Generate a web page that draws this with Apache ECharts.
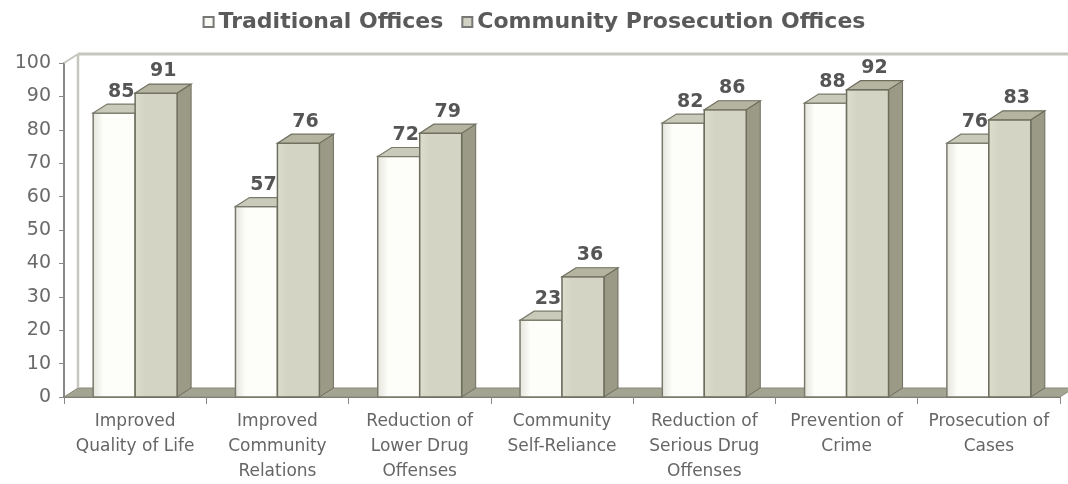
<!DOCTYPE html>
<html>
<head>
<meta charset="utf-8">
<script src="https://cdn.jsdelivr.net/npm/echarts@6/dist/echarts.min.js"></script>
<style>
  html, body { margin: 0; padding: 0; background: #ffffff; }
  #chart { width: 1068px; height: 484px; }
</style>
</head>
<body>
<div id="chart"></div>
<script>
// Survey results: share of offices reporting each outcome
const categories = [
  'Improved\nQuality of Life',
  'Improved\nCommunity\nRelations',
  'Reduction of\nLower Drug\nOffenses',
  'Community\nSelf-Reliance',
  'Reduction of\nSerious Drug\nOffenses',
  'Prevention of\nCrime',
  'Prosecution of\nCases'
];
const traditional = [85, 57, 72, 23, 82, 88, 76];
const community = [91, 76, 79, 36, 86, 92, 83];
const seriesNames = ['Traditional Offices', 'Community Prosecution Offices'];

// 3D extrusion offsets (pixels)
const DX = 14, DY = 9;

const palette = [
  { frontA: '#e4e4dc', frontB: '#fdfdf9', top: '#cacaba', side: '#b2b2a2', edge: '#7a7a6c' },
  { frontA: '#dedecf', frontB: '#d4d4c4', top: '#b4b4a0', side: '#9a9a86', edge: '#6e6e5e' }
];

function makeBarRenderer(idx) {
  const c = palette[idx];
  return function (params, api) {
    const cat = api.value(0), val = api.value(1);
    const base = api.coord([cat, 0]);
    const top = api.coord([cat, val]);
    const band = api.size([1, 0])[0];
    const w = band * 0.295;
    const x0 = idx === 0 ? base[0] - w : base[0];
    const x1 = x0 + w;
    const yt = top[1], yb = base[1];
    return {
      type: 'group',
      children: [
        {
          type: 'polygon',
          shape: { points: [[x1, yt], [x1 + DX, yt - DY], [x1 + DX, yb - DY], [x1, yb]] },
          style: { fill: c.side, stroke: c.edge, lineWidth: 1 }
        },
        {
          type: 'rect',
          shape: { x: x0, y: yt, width: w, height: yb - yt },
          style: {
            fill: new echarts.graphic.LinearGradient(0, 0, 1, 0, [
              { offset: 0, color: c.frontA },
              { offset: 0.25, color: c.frontB },
              { offset: 1, color: c.frontB }
            ]),
            stroke: c.edge, lineWidth: 1.5
          }
        },
        {
          type: 'polygon',
          shape: { points: [[x0, yt], [x0 + DX, yt - DY], [x1 + DX, yt - DY], [x1, yt]] },
          style: { fill: c.top, stroke: c.edge, lineWidth: 1.2 }
        },
        {
          type: 'text',
          z2: 10,
          style: {
            x: (x0 + x1) / 2 + DX / 2,
            y: yt - DY - 3,
            text: String(val),
            align: 'center',
            verticalAlign: 'bottom',
            fill: '#555555',
            font: 'bold 19px "DejaVu Sans", sans-serif'
          }
        }
      ]
    };
  };
}

// Back wall and floor of the 3D frame
function renderFrame(params, api) {
  const g = params.coordSys;
  const gx = g.x, gy = g.y, gw = g.width, gh = g.height;
  const yb = gy + gh;
  const wall = '#c6c6be';
  return {
    type: 'group',
    children: [
      {
        type: 'polygon',
        shape: { points: [[gx, yb], [gx + DX, yb - DY], [gx + gw + DX, yb - DY], [gx + gw, yb]] },
        style: { fill: '#a4a493', stroke: '#88887a', lineWidth: 1 }
      },
      {
        type: 'line',
        shape: { x1: gx + DX, y1: gy - DY, x2: gx + DX, y2: yb - DY },
        style: { stroke: wall, lineWidth: 2.5 }
      },
      {
        type: 'line',
        shape: { x1: gx + DX, y1: gy - DY, x2: gx + gw + DX, y2: gy - DY },
        style: { stroke: wall, lineWidth: 3 }
      },
      {
        type: 'line',
        shape: { x1: gx, y1: gy, x2: gx + DX, y2: gy - DY },
        style: { stroke: wall, lineWidth: 2 }
      }
    ]
  };
}

const chart = echarts.init(document.getElementById('chart'), null, { renderer: 'canvas' });

chart.setOption({
  animation: false,
  backgroundColor: '#ffffff',
  legend: {
    data: seriesNames,
    top: 6,
    left: 'center',
    icon: 'rect',
    itemWidth: 10,
    itemHeight: 10,
    itemGap: 18,
    textStyle: { fontFamily: 'DejaVu Sans', fontWeight: 'bold', fontSize: 22, color: '#5a5a5a' }
  },
  grid: { left: 64, right: 8, top: 63, bottom: 83 },
  xAxis: {
    type: 'category',
    data: categories,
    boundaryGap: true,
    axisLine: { show: true, lineStyle: { color: '#77776a', width: 2 } },
    axisTick: { show: true, length: 7, lineStyle: { color: '#888888' } },
    axisLabel: {
      interval: 0,
      margin: 12,
      fontFamily: 'DejaVu Sans',
      fontSize: 17,
      lineHeight: 25,
      color: '#666666'
    },
    splitLine: { show: false }
  },
  yAxis: {
    type: 'value',
    min: 0,
    max: 100,
    interval: 10,
    axisLine: { show: true, lineStyle: { color: '#888888', width: 2 } },
    axisTick: { show: true, length: 5, lineStyle: { color: '#888888' } },
    axisLabel: { margin: 13, fontFamily: 'DejaVu Sans', fontSize: 19, color: '#6a6a6a' },
    splitLine: { show: false }
  },
  series: [
    {
      type: 'custom',
      name: 'frame',
      z: 1,
      silent: true,
      renderItem: renderFrame,
      data: [[0, 0]],
      encode: { x: 0, y: 1 }
    },
    {
      type: 'custom',
      name: seriesNames[0],
      z: 2,
      renderItem: makeBarRenderer(0),
      itemStyle: { color: '#fafaf5', borderColor: '#777777', borderWidth: 1 },
      data: traditional.map((v, i) => [i, v]),
      encode: { x: 0, y: 1 }
    },
    {
      type: 'custom',
      name: seriesNames[1],
      z: 3,
      renderItem: makeBarRenderer(1),
      itemStyle: { color: '#d2d2c2', borderColor: '#777777', borderWidth: 1 },
      data: community.map((v, i) => [i, v]),
      encode: { x: 0, y: 1 }
    }
  ]
});
</script>
</body>
</html>
